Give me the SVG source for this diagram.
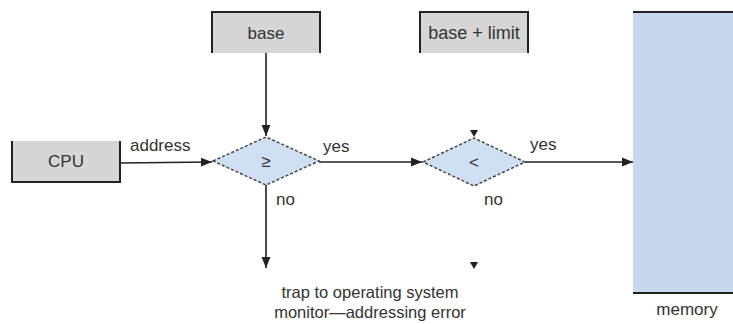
<svg xmlns="http://www.w3.org/2000/svg" width="733" height="324" viewBox="0 0 733 324">
<defs>
<style>
text{font-family:"Liberation Sans",Arial,sans-serif;font-size:17px;fill:#333;}
.box{fill:#d6d6d6;stroke:none;}
.edge{stroke:#222;stroke-width:2;fill:none;}
.dia{fill:#cfe0f5;stroke:#444;stroke-width:1.5;stroke-dasharray:3 2;}
.ln{stroke:#222;stroke-width:1.6;fill:none;}
</style>
<marker id="arr" viewBox="0 0 10 10" refX="10" refY="5" markerWidth="7" markerHeight="7" orient="auto-start-reverse">
<path d="M0,1 L10,5 L0,9 z" fill="#222"/>
</marker>
</defs>
<rect x="0" y="0" width="733" height="324" fill="#fff"/>
<g id="base">
<rect class="box" x="212" y="12" width="108" height="41"/>
<path class="edge" d="M212,53 V12 H320 V53"/>
<text x="266" y="39" text-anchor="middle">base</text>
</g>
<g id="baselimit">
<rect class="box" x="420" y="12" width="108" height="41"/>
<path class="edge" d="M420,53 V12 H528 V53"/>
<text x="474" y="39" text-anchor="middle" style="font-size:18px">base + limit</text>
</g>
<g id="cpu">
<rect class="box" x="12" y="141" width="108" height="41"/>
<path class="edge" d="M12,141 V182 H120 V141"/>
<text x="66" y="167" text-anchor="middle">CPU</text>
</g>
<g id="memory">
<rect x="633" y="12" width="100" height="281" fill="#c8d8ef"/>
<path class="edge" d="M633,12 H733 M633,293 H733"/>
<text x="687" y="315" text-anchor="middle">memory</text>
</g>
<g id="cmp1">
<polygon class="dia" points="213,161 266,137 319,161 266,185"/>
<text x="266" y="167" text-anchor="middle">≥</text>
</g>
<g id="cmp2">
<polygon class="dia" points="423,162 474,138 525,162 474,186"/>
<text x="474" y="168" text-anchor="middle">&lt;</text>
</g>
<g id="trap">
<text x="370" y="298" text-anchor="middle" style="font-size:16.5px">trap to operating system</text>
<text x="370" y="318" text-anchor="middle" style="font-size:16.5px">monitor—addressing error</text>
</g>
<g id="connectors">
<line class="ln" x1="266" y1="53" x2="266" y2="136" marker-end="url(#arr)"/>
<line class="ln" x1="120" y1="163" x2="212" y2="162" marker-end="url(#arr)"/>
<line class="ln" x1="319" y1="162" x2="422" y2="162" marker-end="url(#arr)"/>
<line class="ln" x1="525" y1="162" x2="633" y2="162" marker-end="url(#arr)"/>
<line class="ln" x1="266" y1="185" x2="266" y2="268" marker-end="url(#arr)"/>
<path d="M470,130 L478,130 L474,137 z" fill="#222"/>
<path d="M470,262 L478,262 L474,269 z" fill="#222"/>
<text x="130" y="151">address</text>
<text x="323" y="152">yes</text>
<text x="530" y="150">yes</text>
<text x="276" y="205">no</text>
<text x="484" y="205">no</text>
</g>
</svg>
